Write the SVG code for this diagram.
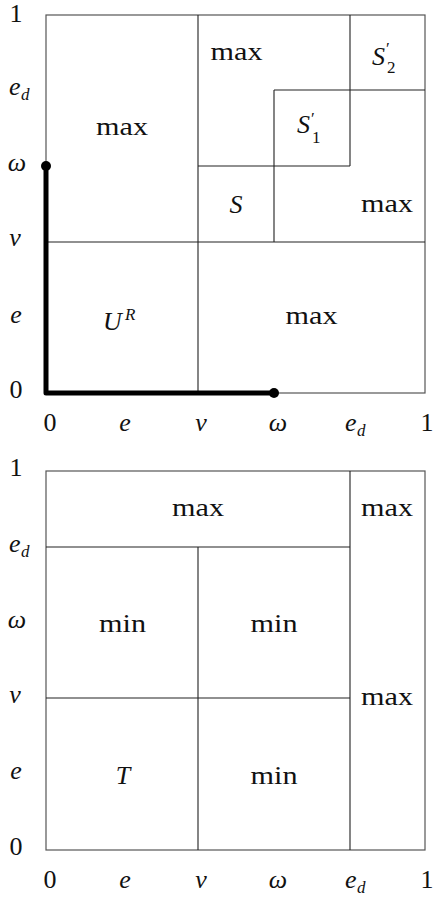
<svg xmlns="http://www.w3.org/2000/svg" width="433" height="899" viewBox="0 0 433 899" font-family="'Liberation Serif', 'DejaVu Serif', serif">
<style>
text{font-size:26px;fill:#111}
.it{font-style:italic}
.sub{font-size:17px}
.m{text-anchor:middle}
.frame{fill:none;stroke:#555;stroke-width:1.2}
.ln{fill:none;stroke:#222;stroke-width:1.1}
.thick{fill:none;stroke:#000;stroke-width:5;stroke-linejoin:round}
</style>
<rect width="433" height="899" fill="#fff"/>
<!-- top plot -->
<g id="plot1">
  <g id="plot1-lines">
    <rect class="frame" x="46" y="15" width="379" height="378"/>
    <path class="ln" d="M198 15V393M46 242H425M198 166H350M274 90V242M274 90H425M350 15V166"/>
  </g>
  <g id="p1-max-tl"><text class="m" x="122" y="135" textLength="52" lengthAdjust="spacingAndGlyphs">max</text></g>
  <g id="p1-max-tm"><text class="m" x="236.5" y="60" textLength="52" lengthAdjust="spacingAndGlyphs">max</text></g>
  <g id="p1-S2"><text class="it" x="372" y="65">S</text><text class="sub" x="386" y="54">′</text><text class="sub" x="387" y="73">2</text></g>
  <g id="p1-S1"><text class="it" x="297" y="133">S</text><text class="sub" x="311" y="124">′</text><text class="sub" x="312" y="143">1</text></g>
  <g id="p1-S"><text class="it m" x="236" y="213">S</text></g>
  <g id="p1-max-r"><text class="m" x="387" y="212" textLength="52" lengthAdjust="spacingAndGlyphs">max</text></g>
  <g id="p1-UR"><text class="it" x="103" y="330">U</text><text class="it sub" x="125" y="320">R</text></g>
  <g id="p1-max-br"><text class="m" x="311.5" y="324" textLength="52" lengthAdjust="spacingAndGlyphs">max</text></g>
  <g id="p1-path">
    <path class="thick" d="M46 166V393H274"/>
    <circle cx="46" cy="166" r="5"/>
    <circle cx="274" cy="393" r="5"/>
  </g>
  <g id="p1-yaxis">
    <text class="m" x="16" y="22">1</text>
    <text class="it" x="9" y="95">e</text><text class="it sub" x="21" y="100">d</text>
    <text class="it m" x="17" y="171">ω</text>
    <text class="it m" x="15" y="246">v</text>
    <text class="it m" x="16" y="323">e</text>
    <text class="m" x="16" y="398">0</text>
  </g>
  <g id="p1-xaxis">
    <text class="m" x="50" y="431">0</text>
    <text class="it m" x="125" y="431">e</text>
    <text class="it m" x="201" y="431">v</text>
    <text class="it m" x="278" y="431">ω</text>
    <text class="it" x="345" y="431">e</text><text class="it sub" x="357" y="436">d</text>
    <text class="m" x="427" y="431">1</text>
  </g>
</g>
<!-- bottom plot -->
<g id="plot2">
  <g id="plot2-lines">
    <rect class="frame" x="46" y="471" width="379" height="379"/>
    <path class="ln" d="M46 547H350M198 547V850M46 698H350M350 471V850"/>
  </g>
  <g id="p2-max-top"><text class="m" x="198" y="516" textLength="52" lengthAdjust="spacingAndGlyphs">max</text></g>
  <g id="p2-max-tr"><text class="m" x="387" y="516" textLength="52" lengthAdjust="spacingAndGlyphs">max</text></g>
  <g id="p2-min-l"><text class="m" x="122.5" y="632" textLength="47" lengthAdjust="spacingAndGlyphs">min</text></g>
  <g id="p2-min-m"><text class="m" x="274" y="632" textLength="47" lengthAdjust="spacingAndGlyphs">min</text></g>
  <g id="p2-max-r"><text class="m" x="387" y="705" textLength="52" lengthAdjust="spacingAndGlyphs">max</text></g>
  <g id="p2-T"><text class="it m" x="123" y="784">T</text></g>
  <g id="p2-min-b"><text class="m" x="274" y="784" textLength="47" lengthAdjust="spacingAndGlyphs">min</text></g>
  <g id="p2-yaxis">
    <text class="m" x="16" y="476">1</text>
    <text class="it" x="9" y="552">e</text><text class="it sub" x="21" y="557">d</text>
    <text class="it m" x="17" y="628">ω</text>
    <text class="it m" x="15" y="703">v</text>
    <text class="it m" x="16" y="779">e</text>
    <text class="m" x="16" y="855">0</text>
  </g>
  <g id="p2-xaxis">
    <text class="m" x="50" y="888">0</text>
    <text class="it m" x="125" y="888">e</text>
    <text class="it m" x="201" y="888">v</text>
    <text class="it m" x="278" y="888">ω</text>
    <text class="it" x="345" y="888">e</text><text class="it sub" x="357" y="893">d</text>
    <text class="m" x="427" y="888">1</text>
  </g>
</g>
</svg>
